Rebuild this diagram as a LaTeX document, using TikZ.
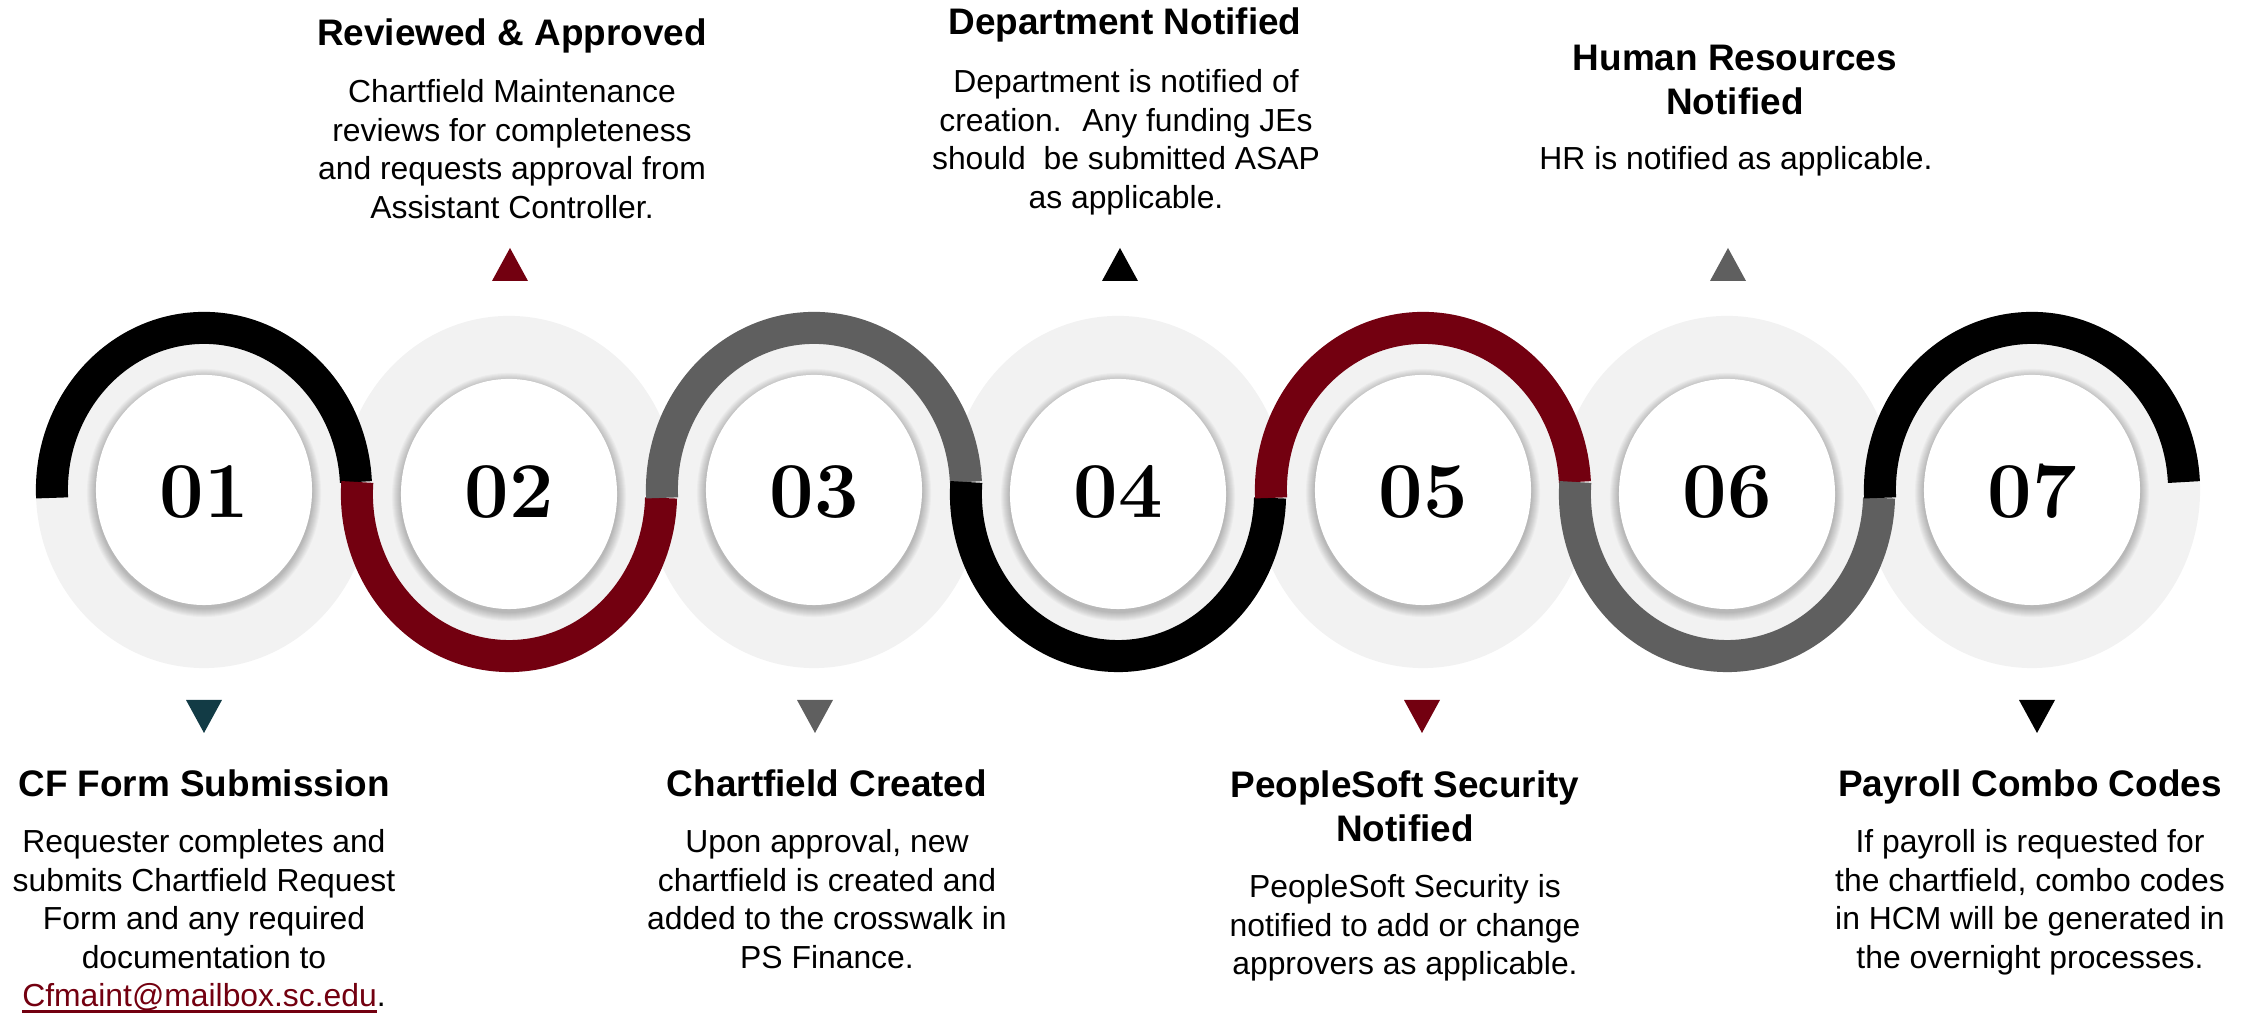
\documentclass[tikz,border=0pt]{standalone}
\usepackage{fontspec}
\newfontfamily\arial{Liberation Sans}
\definecolor{cfred}{HTML}{730010}
\definecolor{cfgray}{HTML}{5F5F5F}
\definecolor{cflight}{HTML}{F2F2F2}
\definecolor{cfteal}{HTML}{123B45}
\newcommand\mailline[1]{\leavevmode\setbox0\hbox{#1}\rlap{\rule[-0.06cm]{\wd0}{0.03cm}}\box0}
\tikzset{
  head/.style={font=\arial\bfseries\fontsize{10.5}{12.5}\selectfont, align=center, inner sep=0pt},
  body/.style={font=\arial\fontsize{9.06}{10.96}\selectfont, align=center, inner sep=0pt, anchor=north},
  num/.style={font=\bfseries\fontsize{22.5}{22.5}\selectfont, inner sep=0pt, anchor=base},
  band/.style={line width=0.32cm},
  disk/.style={fill=cflight},
}
\newcommand\whitedisk[2]{%
  \foreach \i in {1,...,9}{
    \fill[black,opacity=0.028] (#1,#2-3) ellipse [x radius={1.08cm+\i*0.1mm}, y radius={1.15cm+\i*0.1mm}];
  }
  \fill[white] (#1,#2) ellipse [x radius=1.08cm, y radius=1.15cm];
}
\newcommand\topband[3]{% x, y, colour
  \draw[band,#3] (#1,#2) ++(182.8:1.52cm and 1.62cm) arc[start angle=182.8, end angle=2.8, x radius=1.52cm, y radius=1.62cm];
}
\newcommand\botband[3]{%
  \draw[band,#3] (#1,#2) ++(175.75:1.52cm and 1.62cm) arc[start angle=175.75, end angle=358.6, x radius=1.52cm, y radius=1.62cm];
}
\newcommand\downtri[2]{\fill[#2] (#1,313) -- ++(-18,0) -- ++(18,-33) -- ++(18,33) -- cycle;}
\newcommand\uptri[2]{\fill[#2] (#1,732) -- ++(-18,0) -- ++(18,33) -- ++(18,-33) -- cycle;}
\begin{document}
\begin{tikzpicture}[x=0.01cm,y=0.01cm]
\useasboundingbox (0,0) rectangle (2247,1013);
% light disks
\foreach \x/\y in {204/523,509/519,814/523,1118/519,1423/523,1727/519,2032/523}{
  \fill[disk] (\x,\y) ellipse [x radius=1.68cm, y radius=1.78cm];
}
% coloured bands
\topband{204}{523}{black}
\botband{509}{519}{cfred}
\topband{814}{523}{cfgray}
\botband{1118}{519}{black}
\topband{1423}{523}{cfred}
\botband{1727}{519}{cfgray}
\topband{2032}{523}{black}
% white discs
\whitedisk{204}{523}
\whitedisk{509}{519}
\whitedisk{814}{523}
\whitedisk{1118}{519}
\whitedisk{1423}{523}
\whitedisk{1727}{519}
\whitedisk{2032}{523}
% numbers
\node[num] (n1) at (204,495) {01};
\node[num] (n2) at (509,495) {02};
\node[num] (n3) at (814,495) {03};
\node[num] (n4) at (1118,495) {04};
\node[num] (n5) at (1423,495) {05};
\node[num] (n6) at (1727,495) {06};
\node[num] (n7) at (2032,495) {07};
% triangles
\downtri{204}{cfteal}
\uptri{510}{cfred}
\downtri{815}{cfgray}
\uptri{1120}{black}
\downtri{1422}{cfred}
\uptri{1728}{cfgray}
\downtri{2037}{black}
% top texts
\node[head, anchor=base] (h2) at (512,967) {Reviewed \& Approved};
\node[body] (b2) at (512,934) {Chartfield Maintenance\\reviews for completeness\\and requests approval from\\Assistant Controller.};
\node[head, anchor=base] (h4) at (1125,978) {Department Notified};
\node[body] (b4) at (1126,944) {Department is notified of\\creation.~ Any funding JEs\\should~ be submitted ASAP\\as applicable.};
\node[head, anchor=north] (h6) at (1735,969) {Human Resources\\Notified};
\node[body, anchor=base] (b6) at (1736,843) {HR is notified as applicable.};
% bottom texts
\node[head, anchor=base] (h1) at (204,216) {CF Form Submission};
\node[body] (b1) at (204,184) {Requester completes and\\submits Chartfield Request\\Form and any required\\documentation to\\{\color{cfred}\mailline{Cfmaint@mailbox.sc.edu}}.};
\node[head, anchor=base] (h3) at (827,216) {Chartfield Created};
\node[body] (b3) at (827,184) {Upon approval, new\\chartfield is created and\\added to the crosswalk in\\PS Finance.};
\node[head, anchor=north] (h5) at (1405,243) {PeopleSoft Security\\Notified};
\node[body] (b5) at (1405,139) {PeopleSoft Security is\\notified to add or change\\approvers as applicable.};
\node[head, anchor=base] (h7) at (2030,216) {Payroll Combo Codes};
\node[body] (b7) at (2030,184) {If payroll is requested for\\the chartfield, combo codes\\in HCM will be generated in\\the overnight processes.};
\end{tikzpicture}
\end{document}
